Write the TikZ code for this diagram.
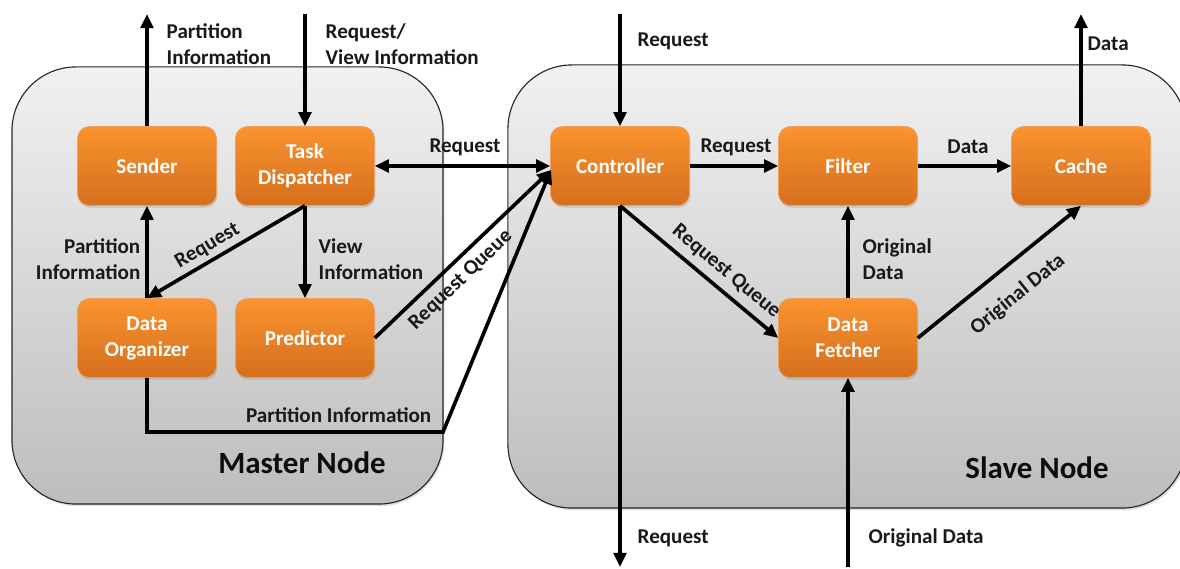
\documentclass[tikz,border=0pt]{standalone}
\usepackage{fontspec}
\setmainfont{Carlito}
\usetikzlibrary{arrows.meta,shadows}
\definecolor{orTop}{HTML}{FB932F}
\definecolor{orBot}{HTML}{D46F1D}
\definecolor{orEdge}{HTML}{F0A060}
\definecolor{panelTop}{HTML}{F1F1F1}
\definecolor{panelBot}{HTML}{BDBDBD}
\begin{document}
\begin{tikzpicture}[x=0.025cm,y=-0.025cm,
  panel/.style={draw=black!85, line width=0.8pt, rounded corners=1.6cm,
    top color=panelTop, bottom color=panelBot, inner sep=0pt,
    drop shadow={opacity=0.25, shadow xshift=1pt, shadow yshift=-1.5pt}},
  unit/.style={rounded corners=0.3cm, minimum width=3.475cm, minimum height=1.975cm,
    top color=orTop, bottom color=orBot, draw=orEdge, line width=0.4pt,
    text=white, align=center, inner sep=2pt,
    font=\fontsize{15}{18.5}\selectfont\bfseries,
    drop shadow={opacity=0.3, shadow xshift=0.6pt, shadow yshift=-1.5pt}},
  flow/.style={line width=2.6pt, -{Triangle[length=10pt,width=9pt]}},
  both/.style={line width=2.6pt, {Triangle[length=10pt,width=9pt]}-{Triangle[length=10pt,width=9pt]}},
  lbl/.style={font=\fontsize{15}{18.5}\selectfont\bfseries, text=black!90, inner sep=1pt},
  title/.style={font=\fontsize{22}{26}\selectfont\bfseries, text=black!95, inner sep=0pt}
]
\useasboundingbox (0,0) rectangle (1180,569);

% containers
\node[panel, minimum width=10.775cm, minimum height=10.925cm] (master) at (227.5,285.5) {};
\node[panel, minimum width=16.95cm, minimum height=11.075cm] (slave) at (847,286.5) {};
\node[title, anchor=base] (mastertitle) at (302,474) {Master Node};
\node[title, anchor=base] (slavetitle) at (1037,479) {Slave Node};

% processing units
\node[unit] (sender) at (147,166) {Sender};
\node[unit] (disp) at (305,166) {Task\\Dispatcher};
\node[unit] (org) at (147,338) {Data\\Organizer};
\node[unit] (pred) at (305,338) {Predictor};
\node[unit] (ctrl) at (620,166) {Controller};
\node[unit] (filter) at (848,166) {Filter};
\node[unit] (cache) at (1081,166) {Cache};
\node[unit] (fetch) at (848,338) {Data\\Fetcher};

% free ends
\coordinate (senderOut) at (147,14);
\coordinate (dispIn) at (305,14);
\coordinate (ctrlIn) at (620,14);
\coordinate (cacheOut) at (1081,14);
\coordinate (ctrlOut) at (620,567);
\coordinate (fetchIn) at (848,567);
\coordinate (orgDown) at (147,432);
\coordinate (orgBend) at (443,432);
\coordinate (ctrlHit) at (551,170);

% master node connectors
\draw[flow] (sender.north) -- (senderOut);
\draw[flow] (dispIn) -- (disp.north);
\draw[flow] (org.north) -- (sender.south);
\draw[flow] (disp.south) -- node[lbl, sloped, above=2pt, pos=0.57] {Request} (org.north);
\draw[flow] (disp.south) -- (pred.north);
\draw[both] (disp.east) -- (ctrl.west);
\draw[flow] (pred.east) -- node[lbl, sloped, below=4pt, pos=0.42] {Request Queue} (ctrlHit);
\draw[flow] (org.south) -- (orgDown) -- (orgBend) -- (ctrlHit);

% slave node connectors
\draw[flow] (ctrlIn) -- (ctrl.north);
\draw[flow] (ctrl.east) -- (filter.west);
\draw[flow] (filter.east) -- (cache.west);
\draw[flow] (cache.north) -- (cacheOut);
\draw[flow] (ctrl.south) -- node[lbl, sloped, above=4pt, pos=0.6] {Request Queue} (fetch.west);
\draw[flow] (ctrl.south) -- (ctrlOut);
\draw[flow] (fetchIn) -- (fetch.south);
\draw[flow] (fetch.north) -- (filter.south);
\draw[flow] (fetch.east) -- node[lbl, sloped, below=12pt, pos=0.5] {Original Data} (cache.south);

% labels
\node[lbl, anchor=west, align=left] (l1) at (165,44) {Partition\\Information};
\node[lbl, anchor=west, align=left] (l2) at (324,44) {Request/\\View Information};
\node[lbl, anchor=east, align=right] (l3) at (142,259) {Partition\\Information};
\node[lbl, anchor=west, align=left] (l4) at (317,259) {View\\Information};
\node[lbl, anchor=east] (l5) at (433,415) {Partition Information};
\node[lbl] (l6) at (465,147) {Request};
\node[lbl, anchor=west] (l7) at (636,41) {Request};
\node[lbl] (l8) at (736,147) {Request};
\node[lbl] (l9) at (968,147) {Data};
\node[lbl, anchor=west] (l10) at (1086,44) {Data};
\node[lbl, anchor=west, align=left] (l11) at (861,259) {Original\\Data};
\node[lbl, anchor=west] (l12) at (636,538) {Request};
\node[lbl, anchor=west] (l13) at (867,538) {Original Data};
\end{tikzpicture}
\end{document}
